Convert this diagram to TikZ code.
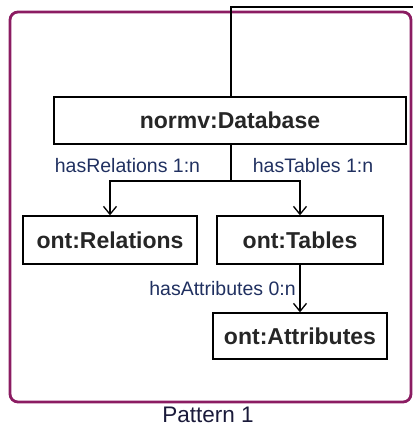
\documentclass[tikz,border=0pt]{standalone}
\usepackage{fontspec}
\setmainfont{Liberation Sans}
\usetikzlibrary{arrows.meta}
\definecolor{framec}{HTML}{8B1C62}
\definecolor{labc}{HTML}{203060}
\definecolor{capc}{HTML}{1A1A3A}
\tikzset{
  x=1pt, y=-1pt,
  cls/.style={draw=black, line width=1.3pt, fill=white, inner sep=0pt,
    font=\fontsize{23}{27}\selectfont\bfseries, text=black!85},
  conn/.style={draw=black, line width=1.3pt},
  arr/.style={conn, -{Straight Barb[length=8pt,width=13pt,line width=1.3pt]}},
  lab/.style={font=\fontsize{19.5}{23}\selectfont, text=labc, inner sep=0pt},
}
\begin{document}
\begin{tikzpicture}
\useasboundingbox (0,0) rectangle (413,428);
% frame
\draw[framec, line width=2.8pt, rounded corners=8pt] (10,12) rectangle (411,402);
\node[font=\fontsize{22.5}{26}\selectfont, text=capc, inner sep=0pt, anchor=base] (cap) at (208,422.5) {Pattern 1};
% nodes
\node[cls, minimum width=352pt, minimum height=47pt] (db) at (230,120.5) {normv:Database};
\node[cls, minimum width=174pt, minimum height=48pt] (rel) at (110,240) {ont:Relations};
\node[cls, minimum width=166pt, minimum height=48pt] (tab) at (300,240) {ont:Tables};
\node[cls, minimum width=174pt, minimum height=46pt] (att) at (300,336) {ont:Attributes};
% incoming line from top
\coordinate (tr) at (413,7);
\coordinate (tc) at (231,7);
\draw[conn] (tr) -- (tc) -- (db.north -| tc);
% branching
\coordinate (br) at (231,181);
\draw[conn] (db.south -| br) -- (br);
\draw[arr] (br) -| (rel.north);
\draw[arr] (br) -| (tab.north);
\draw[arr] (tab.south) -- (att.north);
% labels
\node[lab] (l1) at (127.5,166) {hasRelations 1:n};
\node[lab] (l2) at (313,166) {hasTables 1:n};
\node[lab] (l3) at (222.5,289) {hasAttributes 0:n};
\end{tikzpicture}
\end{document}
